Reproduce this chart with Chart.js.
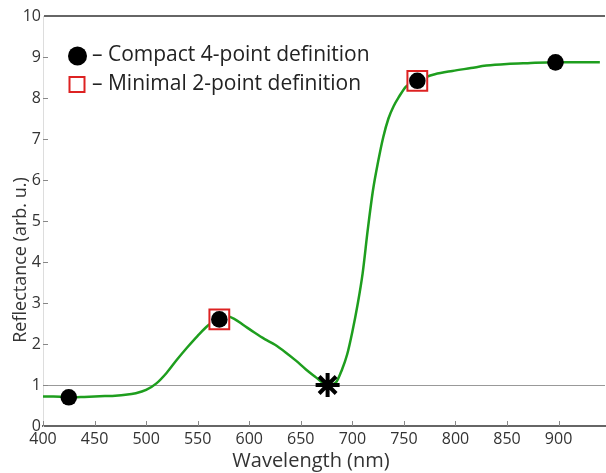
<!DOCTYPE html>
<html>
<head>
<meta charset="utf-8">
<script src="https://cdn.jsdelivr.net/npm/chart.js@4/dist/chart.umd.min.js"></script>
<style>
  body { margin: 0; background: #fff; }
  #wrap { width: 606px; height: 473px; position: relative; }
</style>
</head>
<body>
<div id="wrap"><canvas id="reflectanceChart"></canvas></div>
<script>
// spectrum
const wavelengths = [400, 410, 420, 430, 440, 450, 460, 470, 480, 490, 500, 510, 520, 530, 540, 550, 560, 570, 578, 585,
  595, 605, 615, 625, 635, 645, 655, 665, 672, 677, 684, 690, 695, 700, 705, 710, 715, 720, 725, 730,
  735, 740, 745, 752, 760, 770, 780, 797, 815, 830, 850, 870, 897, 920, 940];
const reflectance = [0.72, 0.72, 0.71, 0.70, 0.71, 0.72, 0.73, 0.74, 0.76, 0.80, 0.88, 1.04, 1.30, 1.62, 1.92, 2.20, 2.45, 2.62, 2.68, 2.62,
  2.45, 2.28, 2.12, 1.98, 1.80, 1.60, 1.38, 1.18, 1.04, 1.00, 1.06, 1.38, 1.75, 2.30, 2.95, 3.73, 4.80, 5.75, 6.45, 7.05,
  7.50, 7.80, 8.02, 8.28, 8.40, 8.50, 8.58, 8.66, 8.73, 8.79, 8.83, 8.85, 8.87, 8.87, 8.87];

// marker points
const compactX = [425, 571, 763, 897];
const compactY = [0.70, 2.60, 8.42, 8.87];
const minimalX = [571, 763];
const minimalY = [2.60, 8.42];
const crossingX = [676];
const crossingY = [1.0];

const legendLabels = ['– Compact 4-point definition', '– Minimal 2-point definition'];
const xTitle = 'Wavelength (nm)';
const yTitle = 'Reflectance (arb. u.)';
const xTickValues = [400, 450, 500, 550, 600, 650, 700, 750, 800, 850, 900];
const yTickValues = [0, 1, 2, 3, 4, 5, 6, 7, 8, 9, 10];

const toPoints = (xs, ys) => xs.map((x, i) => ({ x: x, y: ys[i] }));

// small tick marks pointing into the plot
const innerTicks = {
  id: 'innerTicks',
  afterDraw(chart) {
    const { ctx, chartArea, scales } = chart;
    ctx.save();
    ctx.strokeStyle = '#888';
    ctx.lineWidth = 1;
    ctx.beginPath();
    xTickValues.forEach(v => {
      const px = Math.round(scales.x.getPixelForValue(v)) + 0.5;
      ctx.moveTo(px, chartArea.bottom);
      ctx.lineTo(px, chartArea.bottom - 5);
    });
    yTickValues.slice(1, -1).forEach(v => {
      const py = Math.round(scales.y.getPixelForValue(v)) + 0.5;
      ctx.moveTo(chartArea.left, py);
      ctx.lineTo(chartArea.left + 5, py);
    });
    ctx.stroke();
    ctx.restore();
  }
};

// axis titles (placed off-centre like the original figure)
const axisTitles = {
  id: 'axisTitles',
  afterDraw(chart) {
    const ctx = chart.ctx;
    ctx.save();
    ctx.fillStyle = '#333';
    ctx.textAlign = 'center';
    ctx.textBaseline = 'alphabetic';
    ctx.font = '20px "Open Sans"';
    ctx.fillText(xTitle, 311, 467);
    ctx.translate(25.5, 260);
    ctx.rotate(-Math.PI / 2);
    ctx.font = '18px "Open Sans"';
    ctx.fillText(yTitle, 0, 0);
    ctx.restore();
  }
};

// legend drawn inside the plot, top left
const insideLegend = {
  id: 'insideLegend',
  afterDraw(chart) {
    const ctx = chart.ctx;
    ctx.save();
    ctx.fillStyle = '#000';
    ctx.beginPath();
    ctx.arc(77.5, 56, 9.5, 0, Math.PI * 2);
    ctx.fill();
    ctx.strokeStyle = '#dd2222';
    ctx.lineWidth = 2;
    ctx.strokeRect(69.5, 77, 15, 15);
    ctx.fillStyle = '#222';
    ctx.font = '21px "Open Sans"';
    ctx.textBaseline = 'middle';
    ctx.fillText(legendLabels[0], 92, 55);
    ctx.fillText(legendLabels[1], 92, 84);
    ctx.restore();
  }
};

const ctx = document.getElementById('reflectanceChart').getContext('2d');
new Chart(ctx, {
  type: 'scatter',
  data: {
    datasets: [
      {
        label: 'compact',
        data: toPoints(compactX, compactY),
        pointStyle: 'circle',
        pointRadius: 8.3,
        backgroundColor: '#000',
        borderColor: '#000',
        borderWidth: 0
      },
      {
        label: 'crossing',
        data: toPoints(crossingX, crossingY),
        pointStyle: 'star',
        pointRadius: 12,
        borderColor: '#000',
        borderWidth: 4
      },
      {
        label: 'minimal',
        data: toPoints(minimalX, minimalY),
        pointStyle: 'rect',
        pointRadius: 14,
        backgroundColor: '#fff',
        borderColor: '#dd2222',
        borderWidth: 2
      },
      {
        type: 'line',
        label: 'spectrum',
        data: toPoints(wavelengths, reflectance),
        borderColor: '#1e9e1e',
        borderWidth: 2.5,
        pointRadius: 0,
        fill: false,
        cubicInterpolationMode: 'monotone'
      }
    ]
  },
  options: {
    responsive: true,
    maintainAspectRatio: false,
    animation: false,
    layout: { autoPadding: false, padding: { top: 16, right: 1, left: 0, bottom: 0 } },
    plugins: {
      legend: { display: false },
      tooltip: { enabled: false }
    },
    scales: {
      x: {
        type: 'linear',
        min: 400,
        max: 945,
        afterBuildTicks: s => { s.ticks = xTickValues.map(v => ({ value: v })); },
        afterFit: s => { s.height = 47; },
        border: { display: true, color: '#666', width: 2 },
        grid: { drawOnChartArea: false, drawTicks: false },
        ticks: { color: '#333', padding: 4, font: { family: 'Open Sans', size: 16 } },
        title: { display: false }
      },
      y: {
        min: 0,
        max: 10,
        afterBuildTicks: s => { s.ticks = yTickValues.map(v => ({ value: v })); },
        afterFit: s => { s.width = 43; },
        border: { display: true, color: '#ddd', width: 1 },
        grid: {
          drawTicks: false,
          color: c => c.tick.value === 1 ? '#999' : (c.tick.value === 10 ? '#666' : 'rgba(0,0,0,0)'),
          lineWidth: c => c.tick.value === 10 ? 2 : 1
        },
        ticks: { color: '#333', padding: 2, font: { family: 'Open Sans', size: 16 } },
        title: { display: false }
      }
    }
  },
  plugins: [innerTicks, axisTitles, insideLegend]
});
</script>
</body>
</html>
